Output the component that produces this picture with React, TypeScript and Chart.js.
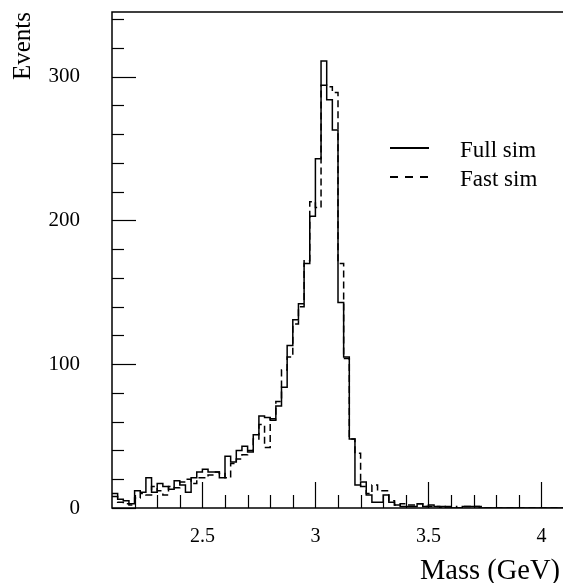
import React, { useEffect, useRef } from "react";
import { Chart, registerables } from "chart.js";

Chart.register(...registerables);

// Histogram binning (GeV)
const massMin = 2.1;
const massMax = 4.1;
const binWidth = 0.025;

// Events per bin, 80 bins from 2.1 to 4.1 GeV
const fullSim = [
  10, 6, 5, 3, 12, 11, 21, 11, 17, 15,
  13, 19, 16, 11, 21, 25, 27, 25, 25, 21,
  36, 32, 40, 43, 39, 51, 64, 63, 61, 71,
  84, 113, 131, 142, 170, 203, 243, 311, 284, 263,
  143, 105, 48, 16, 18, 9, 4, 4, 9, 4,
  2, 1, 1, 1, 3, 1, 2, 1, 1, 0,
  0, 0, 1, 1, 1, 0, 0, 0, 0, 0,
  0, 0, 0, 0, 0, 0, 0, 0, 0, 0,
];
const fastSim = [
  8, 4, 3, 2, 7, 10, 9, 15, 12, 9,
  15, 14, 18, 20, 17, 21, 21, 23, 25, 24,
  21, 31, 34, 37, 40, 48, 58, 42, 62, 74,
  96, 105, 128, 140, 172, 213, 209, 294, 293, 289,
  170, 104, 48, 38, 15, 10, 16, 12, 12, 5,
  2, 3, 2, 2, 3, 1, 1, 1, 0, 1,
  1, 0, 1, 1, 1, 1, 0, 0, 0, 0,
  0, 0, 0, 0, 0, 0, 0, 0, 0, 0,
];

const seriesLabels = ["Full sim", "Fast sim"];
const xMajorTicks = [2.5, 3, 3.5, 4];
const yMajorTicks = [0, 100, 200, 300];
const xMinorStep = 0.1;
const yMinorStep = 20;
const yMax = 345;
const xTitle = "Mass (GeV)";
const yTitle = "Events";

const FONT = "'Liberation Serif', 'Times New Roman', serif";

// bin low edges with each bin's content, plus the closing upper edge
function toSteps(values: number[]) {
  const pts = values.map((v, i) => ({ x: massMin + binWidth * i, y: v }));
  pts.push({ x: massMin + binWidth * values.length, y: values[values.length - 1] });
  return pts;
}

const framePlugin = {
  id: "frameTicks",
  afterDraw(chart: any) {
    const { ctx, chartArea } = chart;
    const xs = chart.scales.x;
    const ys = chart.scales.y;
    const { left, right, top, bottom } = chartArea;
    ctx.save();
    ctx.strokeStyle = "#000";
    ctx.lineWidth = 1.5;
    ctx.beginPath();
    ctx.moveTo(left, top);
    ctx.lineTo(right, top);
    ctx.lineTo(right, bottom);
    ctx.lineTo(left, bottom);
    ctx.closePath();
    ctx.stroke();

    // y ticks (inside, pointing right)
    ctx.lineWidth = 1.2;
    const nY = Math.floor(yMax / yMinorStep);
    for (let k = 0; k <= nY; k++) {
      const v = k * yMinorStep;
      const py = Math.round(ys.getPixelForValue(v)) + 0.5;
      const major = yMajorTicks.includes(v);
      ctx.beginPath();
      ctx.moveTo(left, py);
      ctx.lineTo(left + (major ? 24 : 12), py);
      ctx.stroke();
    }
    // x ticks (inside, pointing up)
    const kStart = Math.ceil(massMin / xMinorStep + 1e-6);
    const kEnd = Math.floor(massMax / xMinorStep - 1e-6);
    for (let k = kStart; k <= kEnd; k++) {
      const v = Math.round(k * xMinorStep * 1000) / 1000;
      const px = Math.round(xs.getPixelForValue(v)) + 0.5;
      const major = xMajorTicks.some((m) => Math.abs(m - v) < 1e-6);
      ctx.beginPath();
      ctx.moveTo(px, bottom);
      ctx.lineTo(px, bottom - (major ? 26 : 13));
      ctx.stroke();
    }

    // x-axis title, right-aligned near the right end of the axis
    ctx.fillStyle = "#000";
    ctx.font = `28.5px ${FONT}`;
    ctx.textAlign = "right";
    ctx.textBaseline = "alphabetic";
    ctx.fillText(xTitle, 560, 579);

    // legend
    const lx0 = 390, lx1 = 429, tx = 460;
    const rows = [148, 177];
    chart.data.datasets.forEach((ds: any, i: number) => {
      const y = rows[i];
      ctx.beginPath();
      ctx.lineWidth = 1.8;
      ctx.setLineDash(i === 0 ? [] : [8, 7]);
      ctx.moveTo(lx0, y);
      ctx.lineTo(lx1, y);
      ctx.stroke();
      ctx.setLineDash([]);
      ctx.fillStyle = "#000";
      ctx.font = `23px ${FONT}`;
      ctx.textBaseline = "alphabetic";
      ctx.textAlign = "left";
      ctx.fillText(ds.label, tx, y + 8.5);
    });
    ctx.restore();
  },
};

export default function App() {
  const ref = useRef<HTMLCanvasElement | null>(null);
  useEffect(() => {
    if (!ref.current) return;
    const chart = new Chart(ref.current, {
      type: "line",
      data: {
        datasets: [
          {
            label: seriesLabels[0],
            data: toSteps(fullSim),
            borderColor: "#000",
            borderWidth: 1.5,
            pointRadius: 0,
            stepped: "before",
            fill: false,
          },
          {
            label: seriesLabels[1],
            data: toSteps(fastSim),
            borderColor: "#000",
            borderWidth: 1.5,
            borderDash: [7, 4],
            pointRadius: 0,
            stepped: "before",
            fill: false,
          },
        ],
      },
      options: {
        animation: false,
        responsive: false,
        devicePixelRatio: 1,
        events: [],
        layout: { padding: { top: 12, right: 2, left: 0, bottom: 0 } },
        plugins: { legend: { display: false }, tooltip: { enabled: false } },
        scales: {
          x: {
            type: "linear",
            min: massMin,
            max: massMax,
            grid: { display: false, drawTicks: false },
            border: { display: false },
            afterBuildTicks: (scale: any) => {
              scale.ticks = xMajorTicks.map((v) => ({ value: v }));
            },
            afterFit: (scale: any) => {
              scale.height = 75;
              scale.paddingLeft = 0;
              scale.paddingRight = 0;
            },
            ticks: {
              autoSkip: false,
              maxRotation: 0,
              padding: 17,
              color: "#000",
              font: { family: FONT, size: 20 },
              callback: (v: any) => String(v),
            },
            title: { display: false },
          },
          y: {
            type: "linear",
            min: 0,
            max: yMax,
            grid: { display: false, drawTicks: false },
            border: { display: false },
            afterBuildTicks: (scale: any) => {
              scale.ticks = yMajorTicks.map((v) => ({ value: v }));
            },
            afterFit: (scale: any) => {
              scale.width = 112;
              scale.paddingTop = 0;
              scale.paddingBottom = 0;
            },
            ticks: {
              autoSkip: false,
              padding: 32,
              color: "#000",
              font: { family: FONT, size: 21 },
              callback: (v: any) => String(v),
            },
            title: {
              display: true,
              text: yTitle,
              align: "end",
              color: "#000",
              font: { family: FONT, size: 25, lineHeight: 1.2 },
              padding: { top: 8, bottom: 0 },
            },
          },
        },
      },
      plugins: [framePlugin],
    });
    return () => chart.destroy();
  }, []);
  return (
    <div
      style={{
        position: "fixed",
        left: 0,
        top: 0,
        width: 563,
        height: 583,
        overflow: "hidden",
        background: "#fff",
      }}
    >
      <canvas ref={ref} width={566} height={583} style={{ width: 566, height: 583, display: "block" }} />
    </div>
  );
}
